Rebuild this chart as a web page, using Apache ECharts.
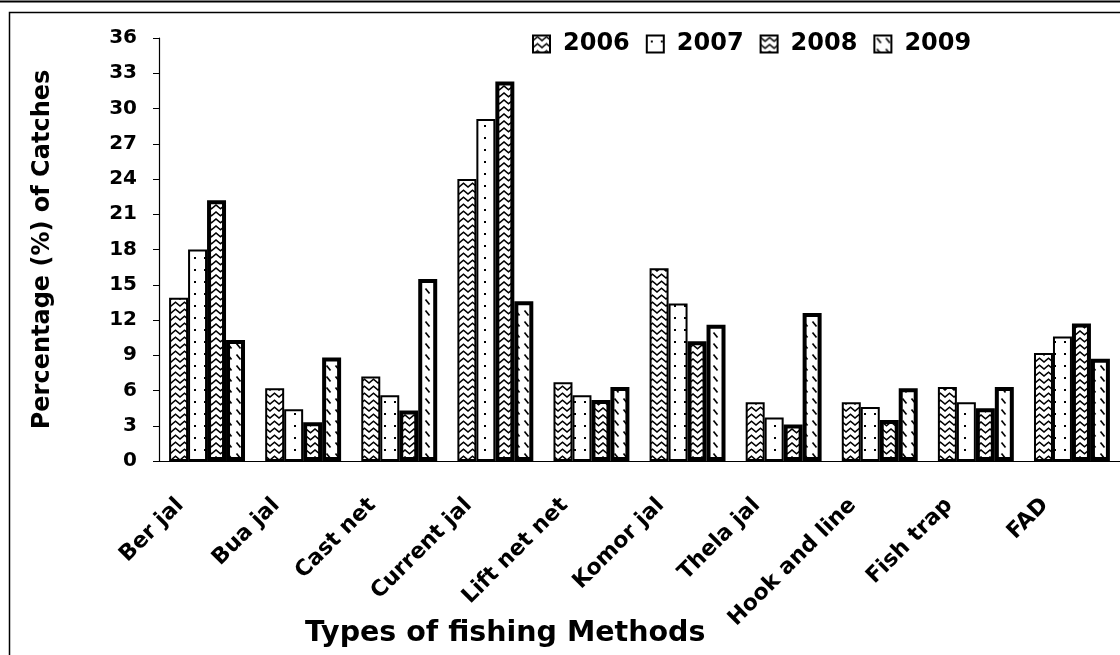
<!DOCTYPE html>
<html>
<head>
<meta charset="utf-8">
<script src="https://cdn.jsdelivr.net/npm/echarts@6/dist/echarts.min.js"></script>
<style>
  html, body { margin: 0; padding: 0; background: #fff; }
  #main { width: 1120px; height: 655px; }
</style>
</head>
<body>
<div id="main"></div>
<script>
var methods = ["Ber jal", "Bua jal", "Cast net", "Current jal", "Lift net net",
  "Komor jal", "Thela jal", "Hook and line", "Fish trap", "FAD"];
var years = ["2006", "2007", "2008", "2009"];
var catch2006 = [13.9, 6.2, 7.2, 24.0, 6.7, 16.4, 5.0, 5.0, 6.3, 9.2];
var catch2007 = [18.0, 4.4, 5.6, 29.1, 5.6, 13.4, 3.7, 4.6, 5.0, 10.6];
var catch2008 = [22.2, 3.3, 4.3, 32.3, 5.2, 10.2, 3.1, 3.5, 4.5, 11.7];
var catch2009 = [10.3, 8.8, 15.5, 13.6, 6.3, 11.6, 12.6, 6.2, 6.3, 8.7];
var yTicks = { min: 0, max: 36, step: 3 };

var FONT = "DejaVu Sans";

// little canvas tiles for the hatch fills
function tile(w, h, draw) {
  var c = document.createElement("canvas");
  c.width = w; c.height = h;
  var ctx = c.getContext("2d");
  ctx.fillStyle = "#fff";
  ctx.fillRect(0, 0, w, h);
  ctx.strokeStyle = "#000";
  ctx.fillStyle = "#000";
  ctx.lineWidth = 1.6;
  draw(ctx);
  return { image: c, repeat: "repeat" };
}
var zigUp = tile(9, 7, function (ctx) {
  ctx.beginPath();
  ctx.moveTo(-0.5, 5.5); ctx.lineTo(4.5, 1.2); ctx.lineTo(9.5, 5.5);
  ctx.stroke();
});
var dots = tile(10, 12, function (ctx) {
  ctx.fillRect(4, 5, 2, 2);
});
var zigDown = tile(9, 7, function (ctx) {
  ctx.beginPath();
  ctx.moveTo(-0.5, 1.5); ctx.lineTo(4.5, 5.8); ctx.lineTo(9.5, 1.5);
  ctx.stroke();
});
var dashes = tile(9, 11, function (ctx) {
  ctx.lineWidth = 1.7;
  ctx.beginPath();
  ctx.moveTo(2.5, 2.5); ctx.lineTo(6.5, 7.5);
  ctx.stroke();
});

var fills = [zigUp, dots, zigDown, dashes];
var borders = [2, 2, 4, 4];
var values = [catch2006, catch2007, catch2008, catch2009];

var series = years.map(function (y, i) {
  return {
    name: y,
    type: "bar",
    data: values[i],
    barGap: "0%",
    barCategoryGap: "21%",
    itemStyle: { color: fills[i], borderColor: "#000", borderWidth: borders[i] }
  };
});

var chart = echarts.init(document.getElementById("main"));
chart.setOption({
  animation: false,
  backgroundColor: "#fff",
  title: {
    text: "Types of fishing Methods",
    left: 300,
    top: 614,
    textStyle: { fontFamily: FONT, fontWeight: "bold", fontSize: 28.5, color: "#000" }
  },
  legend: {
    left: 527,
    top: 27,
    icon: "rect",
    itemWidth: 17,
    itemHeight: 17,
    itemGap: 16,
    textStyle: { fontFamily: FONT, fontWeight: "bold", fontSize: 24, color: "#000", padding: [0, 0, 0, 8] },
    data: years
  },
  grid: { left: 159, top: 38, width: 976, height: 423 },
  xAxis: {
    type: "category",
    data: methods,
    axisLine: { lineStyle: { color: "#000", width: 1.2 } },
    axisTick: { length: 6, lineStyle: { color: "#000" } },
    axisLabel: {
      interval: 0,
      rotate: 45,
      margin: 14,
      padding: [0, 38, 0, 0],
      fontFamily: FONT,
      fontWeight: "bold",
      fontSize: 22,
      color: "#000"
    }
  },
  yAxis: {
    type: "value",
    min: yTicks.min,
    max: yTicks.max,
    interval: yTicks.step,
    name: "Percentage (%) of Catches",
    nameLocation: "middle",
    nameGap: 104,
    nameTextStyle: { fontFamily: FONT, fontWeight: "bold", fontSize: 24, color: "#000" },
    axisLine: { show: true, lineStyle: { color: "#000", width: 1.2 } },
    axisTick: { show: true, length: 6, lineStyle: { color: "#000" } },
    splitLine: { show: false },
    axisLabel: { margin: 22, fontFamily: FONT, fontWeight: "bold", fontSize: 20, color: "#000" }
  },
  graphic: [
    { type: "line", shape: { x1: 0, y1: 1.5, x2: 1120, y2: 1.5 }, style: { stroke: "#000", lineWidth: 2 } },
    { type: "rect", shape: { x: 9.5, y: 12.5, width: 1200, height: 700 }, style: { fill: null, stroke: "#000", lineWidth: 1.5 } }
  ],
  series: series
});
</script>
</body>
</html>
